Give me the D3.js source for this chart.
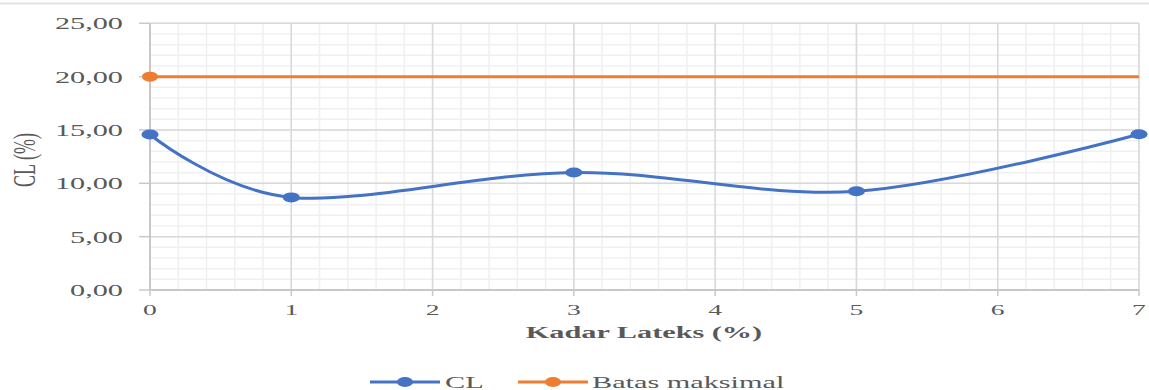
<!DOCTYPE html>
<html><head><meta charset="utf-8">
<script src="https://cdn.jsdelivr.net/npm/d3@7"></script>
<style>body{margin:0;background:#fff}svg{display:block}</style>
</head><body>
<svg id="c" width="1149" height="390"></svg>
<script>
const kadar = [0, 1, 3, 5, 7];
const clValues = [14.58, 8.68, 11.02, 9.25, 14.6];
const batasX = [0, 7];
const batasValues = [20, 20];
const yTicks = [0, 5, 10, 15, 20, 25];
const xTicks = [0, 1, 2, 3, 4, 5, 6, 7];
const yTickLabels = ["0,00", "5,00", "10,00", "15,00", "20,00", "25,00"];
const seriesNames = ["CL", "Batas maksimal"];

const svg = d3.select("#c");
const W = 1149, H = 390;
const S = 1.78; // horizontal stretch of the reference image
const x = d3.scaleLinear().domain([0, 7]).range([150, 1139]);
const y = d3.scaleLinear().domain([0, 25]).range([290, 23.3]);
const font = "'Liberation Serif','Times New Roman',serif";
const gray = "#595959";

// top border line
svg.append("line").attr("x1", 0).attr("x2", W).attr("y1", 3.5).attr("y2", 3.5)
  .attr("stroke", "#e3e3e3").attr("stroke-width", 2);

// minor grid
const g = svg.append("g");
d3.range(0, 7.0001, 0.2).forEach(v => {
  g.append("line").attr("x1", x(v)).attr("x2", x(v)).attr("y1", y(0)).attr("y2", y(25))
    .attr("stroke", "#f0f0f0").attr("stroke-width", 1.5);
});
d3.range(0, 25.0001, 1).forEach(v => {
  g.append("line").attr("x1", x(0)).attr("x2", x(7)).attr("y1", y(v)).attr("y2", y(v))
    .attr("stroke", "#f0f0f0").attr("stroke-width", 1.5);
});
// major grid
xTicks.forEach(v => {
  g.append("line").attr("x1", x(v)).attr("x2", x(v)).attr("y1", y(0)).attr("y2", y(25))
    .attr("stroke", "#d9d9d9").attr("stroke-width", 1.5);
});
yTicks.forEach(v => {
  g.append("line").attr("x1", x(0)).attr("x2", x(7)).attr("y1", y(v)).attr("y2", y(v))
    .attr("stroke", "#d9d9d9").attr("stroke-width", 1.5);
});
// axes lines
g.append("line").attr("x1", x(0)).attr("x2", x(0)).attr("y1", y(0)).attr("y2", y(25))
  .attr("stroke", "#c8c8c8").attr("stroke-width", 2);
g.append("line").attr("x1", x(0)).attr("x2", x(7)).attr("y1", y(0)).attr("y2", y(0))
  .attr("stroke", "#c8c8c8").attr("stroke-width", 2);
// ticks
xTicks.forEach(v => {
  g.append("line").attr("x1", x(v)).attr("x2", x(v)).attr("y1", y(0)).attr("y2", y(0) + 6)
    .attr("stroke", "#c8c8c8").attr("stroke-width", 1.5);
});
yTicks.forEach(v => {
  g.append("line").attr("x1", x(0) - 11).attr("x2", x(0)).attr("y1", y(v)).attr("y2", y(v))
    .attr("stroke", "#c8c8c8").attr("stroke-width", 1.5);
});

function stretchedText(parent, tx, ty, str, opts) {
  const t = parent.append("text")
    .attr("transform", `translate(${tx},${ty}) scale(${S},1)` + (opts.rotate ? ` rotate(${opts.rotate})` : ""))
    .attr("font-family", font).attr("font-size", opts.size)
    .attr("font-weight", opts.weight || "normal")
    .attr("fill", gray).attr("text-anchor", opts.anchor || "middle")
    .text(str);
  return t;
}

// y tick labels
yTicks.forEach((v, i) => {
  stretchedText(svg, 123, y(v) + 6, yTickLabels[i], {size: 17, anchor: "end"});
});
// x tick labels
xTicks.forEach(v => {
  stretchedText(svg, x(v), 315, String(v), {size: 15.5});
});
// axis titles
stretchedText(svg, 644, 338, "Kadar Lateks (%)", {size: 17, weight: "bold"});
stretchedText(svg, 35, 160, "CL (%)", {size: 18, rotate: -90});

// series
const blue = "#4472C4", orange = "#ED7D31";
const clData = kadar.map((k, i) => [k, clValues[i]]);
const batasData = batasX.map((k, i) => [k, batasValues[i]]);

svg.append("path").datum(batasData)
  .attr("d", d3.line().x(d => x(d[0])).y(d => y(d[1])))
  .attr("fill", "none").attr("stroke", orange).attr("stroke-width", 3);
svg.append("ellipse").attr("cx", x(batasData[0][0])).attr("cy", y(batasData[0][1]))
  .attr("rx", 8).attr("ry", 5).attr("fill", orange);

svg.append("path").datum(clData)
  .attr("d", d3.line().x(d => x(d[0])).y(d => y(d[1])).curve(d3.curveCardinal.tension(0)))
  .attr("fill", "none").attr("stroke", blue).attr("stroke-width", 3);
svg.selectAll(".cl").data(clData).enter().append("ellipse")
  .attr("cx", d => x(d[0])).attr("cy", d => y(d[1]))
  .attr("rx", 8.5).attr("ry", 5).attr("fill", blue);

// legend
const leg = svg.append("g");
const items = [
  {name: seriesNames[0], color: blue, x1: 370, x2: 440, tx: 445},
  {name: seriesNames[1], color: orange, x1: 518, x2: 588, tx: 592}
];
items.forEach(it => {
  leg.append("line").attr("x1", it.x1).attr("x2", it.x2).attr("y1", 382).attr("y2", 382)
    .attr("stroke", it.color).attr("stroke-width", 3);
  leg.append("ellipse").attr("cx", (it.x1 + it.x2) / 2).attr("cy", 382)
    .attr("rx", 8).attr("ry", 5).attr("fill", it.color);
  stretchedText(leg, it.tx, 388, it.name, {size: 17, anchor: "start"});
});
</script>
</body></html>
